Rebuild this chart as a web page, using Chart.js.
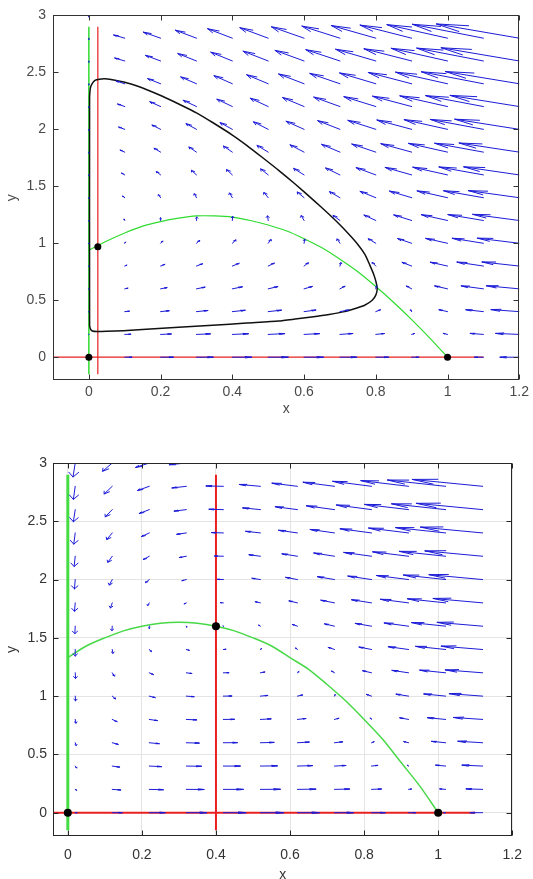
<!DOCTYPE html>
<html>
<head>
<meta charset="utf-8">
<script src="https://cdn.jsdelivr.net/npm/chart.js@4.4.1/dist/chart.umd.min.js"></script>
<style>
  html, body { margin: 0; padding: 0; background: #fff; overflow: hidden; }
  #wrap { position: relative; width: 533px; height: 879px; }
  canvas { position: absolute; left: 0; }
  #topChart { top: 0; }
  #bottomChart { top: 440px; }
</style>
</head>
<body>
<div id="wrap">
  <canvas id="topChart" width="533" height="440"></canvas>
  <canvas id="bottomChart" width="533" height="450"></canvas>
</div>
<script>
// tick labels (both panels)
const xTicks = [0, 0.2, 0.4, 0.6, 0.8, 1, 1.2];
const yTicks = [0, 0.5, 1, 1.5, 2, 2.5, 3];

// ---------- top panel ----------
const topGridX = [0, 0.1, 0.2, 0.3, 0.4, 0.5, 0.6, 0.7, 0.8, 0.9, 1, 1.1, 1.2];
const topGridY = [0, 0.2, 0.4, 0.6, 0.8, 1, 1.2, 1.4, 1.6, 1.8, 2, 2.2, 2.4, 2.6, 2.8, 3];
// arrow x-components, one row per grid y
const topU = [
  [0, .020, .036, .047, .054, .056, .054, .047, .036, .020, 0, -.025, -.054],
  [0, .017, .030, .039, .045, .046, .043, .036, .024, .008, -.012, -.037, -.066],
  [0, .013, .024, .032, .036, .037, .033, .025, .013, -.003, -.024, -.049, -.079],
  [0, .009, .018, .024, .028, .027, .023, .014, .002, -.015, -.036, -.062, -.092],
  [0, .006, .012, .017, .019, .017, .012, .003, -.010, -.027, -.048, -.074, -.104],
  [0, .002, .006, .009, .010, .008, .002, -.008, -.021, -.039, -.061, -.087, -.117],
  [0, -.002, 0, .001, .001, -.002, -.008, -.019, -.033, -.050, -.073, -.099, -.130],
  [0, -.006, -.006, -.006, -.008, -.012, -.019, -.029, -.044, -.062, -.085, -.111, -.142],
  [0, -.009, -.012, -.014, -.016, -.021, -.029, -.040, -.055, -.074, -.097, -.124, -.155],
  [0, -.013, -.018, -.021, -.025, -.031, -.039, -.051, -.067, -.086, -.109, -.136, -.168],
  [0, -.017, -.024, -.029, -.034, -.041, -.050, -.062, -.078, -.097, -.121, -.148, -.180],
  [0, -.020, -.030, -.037, -.043, -.050, -.060, -.073, -.089, -.109, -.133, -.161, -.193],
  [0, -.024, -.036, -.044, -.051, -.060, -.071, -.084, -.101, -.121, -.145, -.173, -.206],
  [0, -.028, -.042, -.052, -.060, -.070, -.081, -.095, -.112, -.133, -.157, -.186, -.218],
  [0, -.031, -.048, -.059, -.069, -.079, -.091, -.106, -.124, -.144, -.169, -.198, -.231],
  [0, -.035, -.054, -.067, -.078, -.089, -.102, -.117, -.135, -.156, -.182, -.210, -.243]
];
// arrow y-components
const topV = [
  [0, 0, 0, 0, 0, 0, 0, 0, 0, 0, 0, 0, 0],
  [-.001, .002, .004, .005, .006, .007, .007, .008, .008, .008, .009, .009, .009],
  [-.002, .004, .008, .010, .012, .013, .014, .015, .016, .016, .017, .017, .018],
  [-.003, .006, .011, .015, .018, .020, .021, .023, .024, .025, .026, .026, .027],
  [-.003, .008, .015, .020, .024, .026, .029, .030, .032, .033, .034, .035, .036],
  [-.004, .010, .019, .025, .030, .033, .036, .038, .040, .041, .043, .044, .045],
  [-.005, .012, .023, .030, .036, .040, .043, .045, .048, .049, .051, .052, .054],
  [-.006, .014, .026, .035, .041, .046, .050, .053, .056, .058, .060, .061, .062],
  [-.007, .016, .030, .040, .047, .053, .057, .061, .064, .066, .068, .070, .071],
  [-.008, .018, .034, .045, .053, .059, .064, .068, .071, .074, .077, .078, .080],
  [-.009, .020, .038, .050, .059, .066, .071, .076, .079, .082, .085, .087, .089],
  [-.009, .022, .042, .055, .065, .073, .079, .083, .087, .091, .094, .096, .098],
  [-.010, .024, .045, .060, .071, .079, .086, .091, .095, .099, .102, .105, .107],
  [-.011, .026, .049, .065, .077, .086, .093, .099, .103, .107, .111, .113, .116],
  [-.012, .028, .053, .070, .083, .092, .100, .106, .111, .115, .119, .122, .125],
  [-.013, .030, .057, .075, .089, .099, .107, .114, .119, .124, .128, .131, .134]
];
const topNullX = [0, 0.05, 0.1, 0.15, 0.2, 0.25, 0.3, 0.35, 0.4, 0.45, 0.5, 0.55, 0.6, 0.65, 0.7, 0.75, 0.8, 0.85, 0.9, 0.95, 1];
const topNullY = [0.94, 1.02, 1.09, 1.15, 1.19, 1.22, 1.24, 1.24, 1.23, 1.20, 1.16, 1.11, 1.04, 0.96, 0.86, 0.75, 0.62, 0.48, 0.33, 0.17, 0];
// closed orbit
const topOrbitX = [0.002, 0.004, 0.008, 0.017, 0.03, 0.045, 0.073, 0.115, 0.16, 0.205, 0.252, 0.30, 0.345, 0.40, 0.44, 0.483, 0.53, 0.575, 0.63, 0.665, 0.695, 0.725, 0.75, 0.77, 0.783, 0.795, 0.801, 0.804, 0.800, 0.790, 0.769, 0.745, 0.713, 0.67, 0.621, 0.575, 0.529, 0.44, 0.345, 0.25, 0.16, 0.096, 0.05, 0.022, 0.010, 0.005, 0.002, 0.002];
const topOrbitY = [2.29, 2.36, 2.395, 2.43, 2.44, 2.443, 2.43, 2.40, 2.35, 2.29, 2.22, 2.145, 2.06, 1.95, 1.86, 1.755, 1.638, 1.52, 1.368, 1.268, 1.178, 1.08, 0.99, 0.90, 0.81, 0.72, 0.656, 0.60, 0.545, 0.50, 0.456, 0.43, 0.40, 0.375, 0.353, 0.335, 0.318, 0.30, 0.28, 0.262, 0.245, 0.233, 0.227, 0.225, 0.23, 0.245, 0.28, 2.29];
const topEqX = [0, 1, 0.025];
const topEqY = [0, 0, 0.97];
const topPredX = 0.025;
const topVertY = [-0.15, 2.9];
const topZeroX = [-0.1, 1.1];

// ---------- bottom panel ----------
const botGridX = [0.02, 0.12, 0.22, 0.32, 0.42, 0.52, 0.62, 0.72, 0.82, 0.92, 1.02, 1.12];
const botGridY = [0, 0.2, 0.4, 0.6, 0.8, 1, 1.2, 1.4, 1.6, 1.8, 2, 2.2, 2.4, 2.6, 2.8, 3];
const botU = [
  [.005, .027, .043, .055, .061, .063, .059, .051, .037, .019, -.005, -.034],
  [.004, .023, .038, .048, .054, .054, .050, .041, .027, .008, -.016, -.045],
  [.004, .020, .033, .041, .046, .046, .041, .031, .017, -.003, -.027, -.056],
  [.003, .016, .027, .035, .038, .037, .032, .022, .007, -.013, -.038, -.067],
  [.002, .013, .022, .028, .030, .029, .023, .012, -.003, -.024, -.049, -.079],
  [.001, .009, .016, .021, .023, .020, .014, .002, -.014, -.034, -.059, -.090],
  [.001, .006, .011, .015, .015, .012, .004, -.008, -.024, -.045, -.070, -.101],
  [0, .002, .006, .008, .007, .003, -.005, -.017, -.034, -.055, -.081, -.112],
  [-.001, -.001, 0, .001, -.001, -.005, -.014, -.027, -.044, -.066, -.092, -.123],
  [-.002, -.005, -.005, -.006, -.008, -.014, -.023, -.037, -.054, -.076, -.103, -.134],
  [-.002, -.008, -.010, -.012, -.016, -.023, -.032, -.046, -.064, -.087, -.114, -.145],
  [-.003, -.012, -.016, -.019, -.024, -.031, -.042, -.056, -.075, -.097, -.125, -.156],
  [-.004, -.015, -.021, -.026, -.032, -.040, -.051, -.066, -.085, -.108, -.135, -.168],
  [-.005, -.019, -.027, -.033, -.039, -.048, -.060, -.076, -.095, -.119, -.146, -.179],
  [-.005, -.022, -.032, -.039, -.047, -.057, -.069, -.085, -.105, -.129, -.157, -.190],
  [-.006, -.026, -.037, -.046, -.055, -.065, -.078, -.095, -.115, -.140, -.168, -.201]
];
const botV = [
  [0, 0, 0, 0, 0, 0, 0, 0, 0, 0, 0, 0],
  [-.008, -.005, -.003, -.001, 0, .001, .002, .003, .003, .003, .004, .004],
  [-.016, -.009, -.005, -.002, 0, .002, .004, .005, .006, .007, .008, .008],
  [-.024, -.014, -.008, -.003, .001, .003, .006, .008, .009, .010, .012, .013],
  [-.032, -.019, -.010, -.004, .001, .005, .008, .010, .012, .014, .015, .017],
  [-.040, -.024, -.013, -.005, .001, .006, .010, .013, .015, .017, .019, .021],
  [-.048, -.028, -.015, -.006, .001, .007, .011, .015, .018, .021, .023, .025],
  [-.056, -.033, -.018, -.007, .002, .008, .013, .018, .021, .024, .027, .029],
  [-.064, -.038, -.020, -.008, .002, .009, .015, .020, .024, .028, .031, .033],
  [-.072, -.043, -.023, -.009, .002, .010, .017, .023, .027, .031, .035, .038],
  [-.080, -.047, -.026, -.010, .002, .011, .019, .025, .030, .035, .039, .042],
  [-.088, -.052, -.028, -.011, .002, .013, .021, .028, .033, .038, .042, .046],
  [-.096, -.057, -.031, -.012, .003, .014, .023, .030, .036, .042, .046, .050],
  [-.104, -.062, -.033, -.013, .003, .015, .025, .033, .040, .045, .050, .054],
  [-.112, -.066, -.036, -.014, .003, .016, .027, .035, .043, .049, .054, .059],
  [-.120, -.071, -.038, -.015, .003, .017, .029, .038, .046, .052, .058, .063]
];
const botNullX = [0, 0.05, 0.1, 0.15, 0.2, 0.25, 0.3, 0.35, 0.4, 0.45, 0.5, 0.55, 0.6, 0.65, 0.7, 0.75, 0.8, 0.85, 0.9, 0.95, 1];
const botNullY = [1.33, 1.43, 1.50, 1.56, 1.60, 1.625, 1.633, 1.625, 1.60, 1.56, 1.50, 1.43, 1.33, 1.23, 1.10, 0.96, 0.80, 0.63, 0.43, 0.23, 0];
const botEqX = [0, 1, 0.4];
const botEqY = [0, 0, 1.6];
const botPredX = 0.4;
const botVertY = [-0.15, 2.9];
const botZeroX = [-0.04, 1.1];

const FONT = '"Liberation Sans", Arial, sans-serif';
const pts = (xs, ys) => xs.map((v, i) => ({ x: v, y: ys[i] }));

function line(data, color, width, tension) {
    return {
        data: data, showLine: true, borderColor: color, borderWidth: width,
        pointRadius: 0, tension: tension || 0, fill: false
    };
}

// quiver arrows, drawn just before the dots (dataset 0 is painted last)
function makeQuiver(gx, gy, u, v, color) {
    return {
        id: 'quiver',
        beforeDatasetDraw(chart, args) {
            if (args.index !== 0) return;
            const { ctx, chartArea: a, scales: { x, y } } = chart;
            const px = val => x.getPixelForValue(val);
            const py = val => y.getPixelForValue(val);
            ctx.save();
            ctx.beginPath();
            ctx.rect(a.left, a.top, a.right - a.left, a.bottom - a.top);
            ctx.clip();
            ctx.strokeStyle = color;
            ctx.lineWidth = 1;
            ctx.lineCap = 'round';
            ctx.beginPath();
            gy.forEach((y0, r) => {
                gx.forEach((x0, c) => {
                    const du = u[r][c], dv = v[r][c];
                    const ex = x0 + du, ey = y0 + dv;
                    ctx.moveTo(px(x0), py(y0));
                    ctx.lineTo(px(ex), py(ey));
                    // head like matlab quiver (alpha = beta = 0.33, in data units)
                    ctx.moveTo(px(ex - 0.33 * (du + 0.33 * dv)), py(ey - 0.33 * (dv - 0.33 * du)));
                    ctx.lineTo(px(ex), py(ey));
                    ctx.lineTo(px(ex - 0.33 * (du - 0.33 * dv)), py(ey - 0.33 * (dv + 0.33 * du)));
                });
            });
            ctx.stroke();
            ctx.restore();
        }
    };
}

// box with inward tick marks
function makeFrame(color) {
    return {
        id: 'frame',
        afterDraw(chart) {
            const { ctx, chartArea: a, scales: { x, y } } = chart;
            const L = Math.round(a.left) + 0.5, R = Math.round(a.right) - 0.5;
            const T = Math.round(a.top) + 0.5, B = Math.round(a.bottom) - 0.5;
            ctx.save();
            ctx.strokeStyle = color;
            ctx.lineWidth = 1;
            ctx.strokeRect(L, T, R - L, B - T);
            ctx.beginPath();
            x.ticks.forEach(t => {
                const p = Math.round(x.getPixelForValue(t.value)) + 0.5;
                ctx.moveTo(p, B); ctx.lineTo(p, B - 5);
                ctx.moveTo(p, T); ctx.lineTo(p, T + 5);
            });
            y.ticks.forEach(t => {
                const p = Math.round(y.getPixelForValue(t.value)) + 0.5;
                ctx.moveTo(L, p); ctx.lineTo(L + 5, p);
                ctx.moveTo(R, p); ctx.lineTo(R - 5, p);
            });
            ctx.stroke();
            ctx.restore();
        }
    };
}

function scales(xMin, o) {
    return {
        x: {
            type: 'linear', min: xMin, max: 1.2,
            afterBuildTicks: s => { s.ticks = xTicks.map(v => ({ value: v })); },
            afterFit: s => { s.height = o.xHeight; },
            grid: { display: o.grid, color: '#e4e4e4', drawTicks: false },
            border: { display: false },
            ticks: { color: o.text, font: { family: FONT, size: 14 }, padding: o.xPad, maxRotation: 0, autoSkip: false, callback: v => String(v) },
            title: { display: true, text: 'x', color: o.text, font: { family: FONT, size: 14 }, padding: { top: 0, bottom: o.titlePad } }
        },
        y: {
            type: 'linear', min: -0.2, max: 3,
            afterBuildTicks: s => { s.ticks = yTicks.map(v => ({ value: v })); },
            afterFit: s => { s.width = 53; },
            grid: { display: o.grid, color: '#e4e4e4', drawTicks: false },
            border: { display: false },
            ticks: { color: o.text, font: { family: FONT, size: 14 }, padding: o.yPad, autoSkip: false, callback: v => String(v) },
            title: { display: true, text: 'y', color: o.text, font: { family: FONT, size: 14 }, padding: { top: 4, bottom: 0 } }
        }
    };
}

const GREEN = '#2fdc2f', RED = '#e82020', BLUE = 'rgb(28, 28, 215)';

new Chart(document.getElementById('topChart'), {
    type: 'scatter',
    data: {
        datasets: [
            { data: pts(topEqX, topEqY), pointRadius: 3.5, pointBackgroundColor: '#000', pointBorderWidth: 0, showLine: false },
            line(pts(topOrbitX, topOrbitY), '#111', 1.5, 0.2),
            line(pts(topNullX, topNullY), GREEN, 1.2, 0.3),
            line(pts(topZeroX, [0, 0]), RED, 1.2),
            line(pts([topPredX, topPredX], topVertY), RED, 1.2),
            line(pts([0, 0], topVertY), GREEN, 1.5)
        ]
    },
    options: {
        responsive: false, animation: false, events: [],
        layout: { padding: { top: 10, right: 10, left: 0, bottom: 0 } },
        plugins: { legend: { display: false }, tooltip: { enabled: false } },
        scales: scales(-0.1, { grid: false, text: '#4a4a4a', xHeight: 60, xPad: 4, yPad: 7, titlePad: 22 })
    },
    plugins: [makeQuiver(topGridX, topGridY, topU, topV, BLUE), makeFrame('#333')]
});

new Chart(document.getElementById('bottomChart'), {
    type: 'scatter',
    data: {
        datasets: [
            { data: pts(botEqX, botEqY), pointRadius: 4, pointBackgroundColor: '#000', pointBorderWidth: 0, showLine: false },
            line(pts(botNullX, botNullY), '#48d848', 1.5, 0.3),
            line(pts(botZeroX, [0, 0]), RED, 2),
            line(pts([botPredX, botPredX], botVertY), RED, 2),
            line(pts([0, 0], botVertY), '#44dd44', 3)
        ]
    },
    options: {
        responsive: false, animation: false, events: [],
        layout: { padding: { top: 23, right: 10, left: 0, bottom: 0 } },
        plugins: { legend: { display: false }, tooltip: { enabled: false } },
        scales: scales(-0.04, { grid: true, text: '#333', xHeight: 54, xPad: 11, yPad: 6, titlePad: 6 })
    },
    plugins: [makeQuiver(botGridX, botGridY, botU, botV, BLUE), makeFrame('#262626')]
});
</script>
</body>
</html>
